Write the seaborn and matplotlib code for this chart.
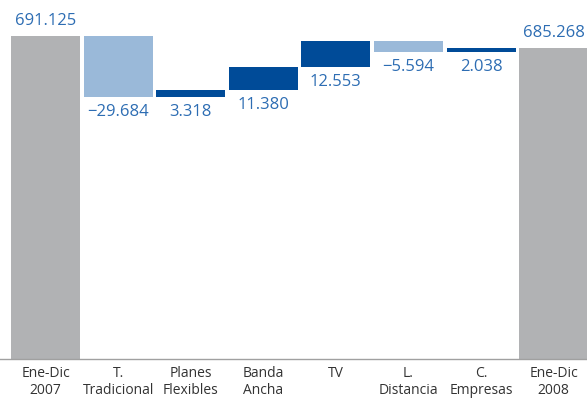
import matplotlib
matplotlib.use("Agg")
import matplotlib.pyplot as plt
import seaborn as sns

# data
categories = ["Ene-Dic\n2007", "T.\nTradicional", "Planes\nFlexibles", "Banda\nAncha",
              "TV", "L.\nDistancia", "C.\nEmpresas", "Ene-Dic\n2008"]
start_total = 691.125
changes = [-29.684, 3.318, 11.380, 12.553, -5.594, 2.038]
end_total = 685.268
value_labels = ["691.125", "\u221229.684", "3.318", "11.380", "12.553",
                "\u22125.594", "2.038", "685.268"]

GRAY = "#b1b2b4"
LIGHT = "#9ab9d9"
DARK = "#004b98"
TXT = "#2d6db3"

sns.set_style("white")
plt.rcParams["font.family"] = ["Open Sans", "DejaVu Sans"]

y_min, y_max = 533.6, 708.7

# waterfall: bottoms and heights
bottoms, heights, colors = [y_min], [start_total - y_min], [GRAY]
level = start_total
for c in changes:
    new = level + c
    bottoms.append(min(level, new))
    heights.append(abs(c))
    colors.append(DARK if c > 0 else LIGHT)
    level = new
bottoms.append(y_min)
heights.append(end_total - y_min)
colors.append(GRAY)

fig = plt.figure(figsize=(5.87, 4.01), dpi=100)
ax = fig.add_axes([0, 42 / 401, 1, 359 / 401])

sns.barplot(x=list(range(len(categories))), y=heights, bottom=bottoms,
            color=GRAY, width=0.95, saturation=1, ax=ax, linewidth=0,
            errorbar=None)
for p, col in zip(ax.patches, colors):
    p.set_facecolor(col)
    p.set_edgecolor("none")

ax.set_ylim(y_min, y_max)
ax.set_xlim(-0.627, 7.459)

for i, lab in enumerate(value_labels):
    if i == 0 or i == len(value_labels) - 1:
        ax.annotate(lab, (i, bottoms[i] + heights[i]), xytext=(0, 5),
                    textcoords="offset points", ha="center", va="bottom",
                    fontsize=12, color=TXT)
    else:
        ax.annotate(lab, (i, bottoms[i]), xytext=(0, -5),
                    textcoords="offset points", ha="center", va="top",
                    fontsize=12, color=TXT)

ax.set_xticks(range(len(categories)))
ax.set_xticklabels(categories, fontsize=10, color="#333333", linespacing=1.2)
ax.tick_params(axis="x", length=0, pad=5)
ax.set_yticks([])
ax.set_xlabel("")
ax.set_ylabel("")
for s in ["top", "left", "right"]:
    ax.spines[s].set_visible(False)
ax.spines["bottom"].set_color("#a0a0a0")
ax.spines["bottom"].set_linewidth(1)

fig.savefig("out.png", dpi=100)
